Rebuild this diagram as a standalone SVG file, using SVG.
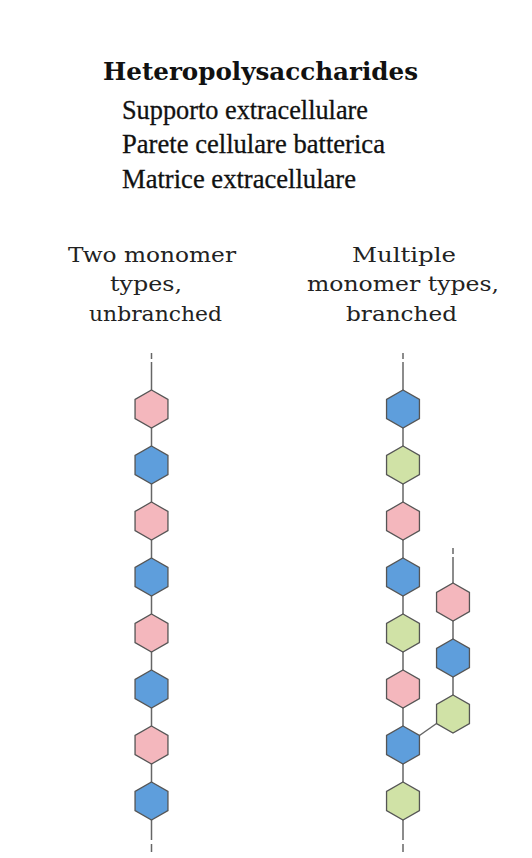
<svg xmlns="http://www.w3.org/2000/svg" xmlns:xlink="http://www.w3.org/1999/xlink" width="532" height="858" viewBox="0 0 532 858">
<style>
.title{font-family:"DejaVu Serif","Liberation Serif",serif;font-weight:bold;font-size:24.5px;fill:#111}
.sub{font-family:"Liberation Serif","DejaVu Serif",serif;font-size:27px;fill:#111;stroke:#111;stroke-width:0.3}
.lbl{font-family:"DejaVu Serif","Liberation Serif",serif;font-size:21px;fill:#222}
.hex{stroke:#555;stroke-width:1.3}
.pink{fill:#f4b7bd}
.blue{fill:#5e9edc}
.green{fill:#d0e2a6}
.ln{stroke:#666;stroke-width:1.5;fill:none}
</style>
<defs>
<polygon id="hx" class="hex" points="0,-19 16.45,-9.5 16.45,9.5 0,19 -16.45,9.5 -16.45,-9.5"/>
</defs>
<rect width="532" height="858" fill="#fff"/>
<g id="texts">
<text class="title" x="103" y="80" textLength="315" lengthAdjust="spacingAndGlyphs">Heteropolysaccharides</text>
<text class="sub" x="122" y="119" textLength="246" lengthAdjust="spacingAndGlyphs">Supporto extracellulare</text>
<text class="sub" x="122" y="153" textLength="263" lengthAdjust="spacingAndGlyphs">Parete cellulare batterica</text>
<text class="sub" x="122" y="188" textLength="234" lengthAdjust="spacingAndGlyphs">Matrice extracellulare</text>
<text class="lbl" x="68" y="262" textLength="168" lengthAdjust="spacingAndGlyphs">Two monomer</text>
<text class="lbl" x="110" y="291" textLength="72" lengthAdjust="spacingAndGlyphs">types,</text>
<text class="lbl" x="89" y="321" textLength="133" lengthAdjust="spacingAndGlyphs">unbranched</text>
<text class="lbl" x="352" y="262" textLength="104" lengthAdjust="spacingAndGlyphs">Multiple</text>
<text class="lbl" x="307" y="291" textLength="192" lengthAdjust="spacingAndGlyphs">monomer types,</text>
<text class="lbl" x="346" y="321" textLength="111" lengthAdjust="spacingAndGlyphs">branched</text>
</g>
<g id="connectors">
<line class="ln" x1="151.5" y1="353" x2="151.5" y2="359"/>
<line class="ln" x1="151.5" y1="362" x2="151.5" y2="390"/>
<line class="ln" x1="151.5" y1="428" x2="151.5" y2="446"/>
<line class="ln" x1="151.5" y1="484" x2="151.5" y2="502"/>
<line class="ln" x1="151.5" y1="540" x2="151.5" y2="558"/>
<line class="ln" x1="151.5" y1="596" x2="151.5" y2="614"/>
<line class="ln" x1="151.5" y1="652" x2="151.5" y2="670"/>
<line class="ln" x1="151.5" y1="708" x2="151.5" y2="726"/>
<line class="ln" x1="151.5" y1="764" x2="151.5" y2="782"/>
<line class="ln" x1="151.5" y1="820" x2="151.5" y2="840"/>
<line class="ln" x1="151.5" y1="844" x2="151.5" y2="852"/>
<line class="ln" x1="403" y1="353" x2="403" y2="359"/>
<line class="ln" x1="403" y1="362" x2="403" y2="390"/>
<line class="ln" x1="403" y1="428" x2="403" y2="446"/>
<line class="ln" x1="403" y1="484" x2="403" y2="502"/>
<line class="ln" x1="403" y1="540" x2="403" y2="558"/>
<line class="ln" x1="403" y1="596" x2="403" y2="614"/>
<line class="ln" x1="403" y1="652" x2="403" y2="670"/>
<line class="ln" x1="403" y1="708" x2="403" y2="726"/>
<line class="ln" x1="403" y1="764" x2="403" y2="782"/>
<line class="ln" x1="403" y1="820" x2="403" y2="840"/>
<line class="ln" x1="403" y1="844" x2="403" y2="852"/>
<line class="ln" x1="453" y1="548" x2="453" y2="554"/>
<line class="ln" x1="453" y1="557" x2="453" y2="583"/>
<line class="ln" x1="453" y1="621" x2="453" y2="639"/>
<line class="ln" x1="453" y1="677" x2="453" y2="695"/>
<line class="ln" x1="419.45" y1="735.5" x2="436.55" y2="723.5"/>
</g>
<g id="left-1"><use xlink:href="#hx" x="151.5" y="409" class="pink"/></g>
<g id="left-2"><use xlink:href="#hx" x="151.5" y="465" class="blue"/></g>
<g id="left-3"><use xlink:href="#hx" x="151.5" y="521" class="pink"/></g>
<g id="left-4"><use xlink:href="#hx" x="151.5" y="577" class="blue"/></g>
<g id="left-5"><use xlink:href="#hx" x="151.5" y="633" class="pink"/></g>
<g id="left-6"><use xlink:href="#hx" x="151.5" y="689" class="blue"/></g>
<g id="left-7"><use xlink:href="#hx" x="151.5" y="745" class="pink"/></g>
<g id="left-8"><use xlink:href="#hx" x="151.5" y="801" class="blue"/></g>
<g id="right-1"><use xlink:href="#hx" x="403" y="409" class="blue"/></g>
<g id="right-2"><use xlink:href="#hx" x="403" y="465" class="green"/></g>
<g id="right-3"><use xlink:href="#hx" x="403" y="521" class="pink"/></g>
<g id="right-4"><use xlink:href="#hx" x="403" y="577" class="blue"/></g>
<g id="right-5"><use xlink:href="#hx" x="403" y="633" class="green"/></g>
<g id="right-6"><use xlink:href="#hx" x="403" y="689" class="pink"/></g>
<g id="right-7"><use xlink:href="#hx" x="403" y="745" class="blue"/></g>
<g id="right-8"><use xlink:href="#hx" x="403" y="801" class="green"/></g>
<g id="branch-1"><use xlink:href="#hx" x="453" y="602" class="pink"/></g>
<g id="branch-2"><use xlink:href="#hx" x="453" y="658" class="blue"/></g>
<g id="branch-3"><use xlink:href="#hx" x="453" y="714" class="green"/></g>
</svg>
